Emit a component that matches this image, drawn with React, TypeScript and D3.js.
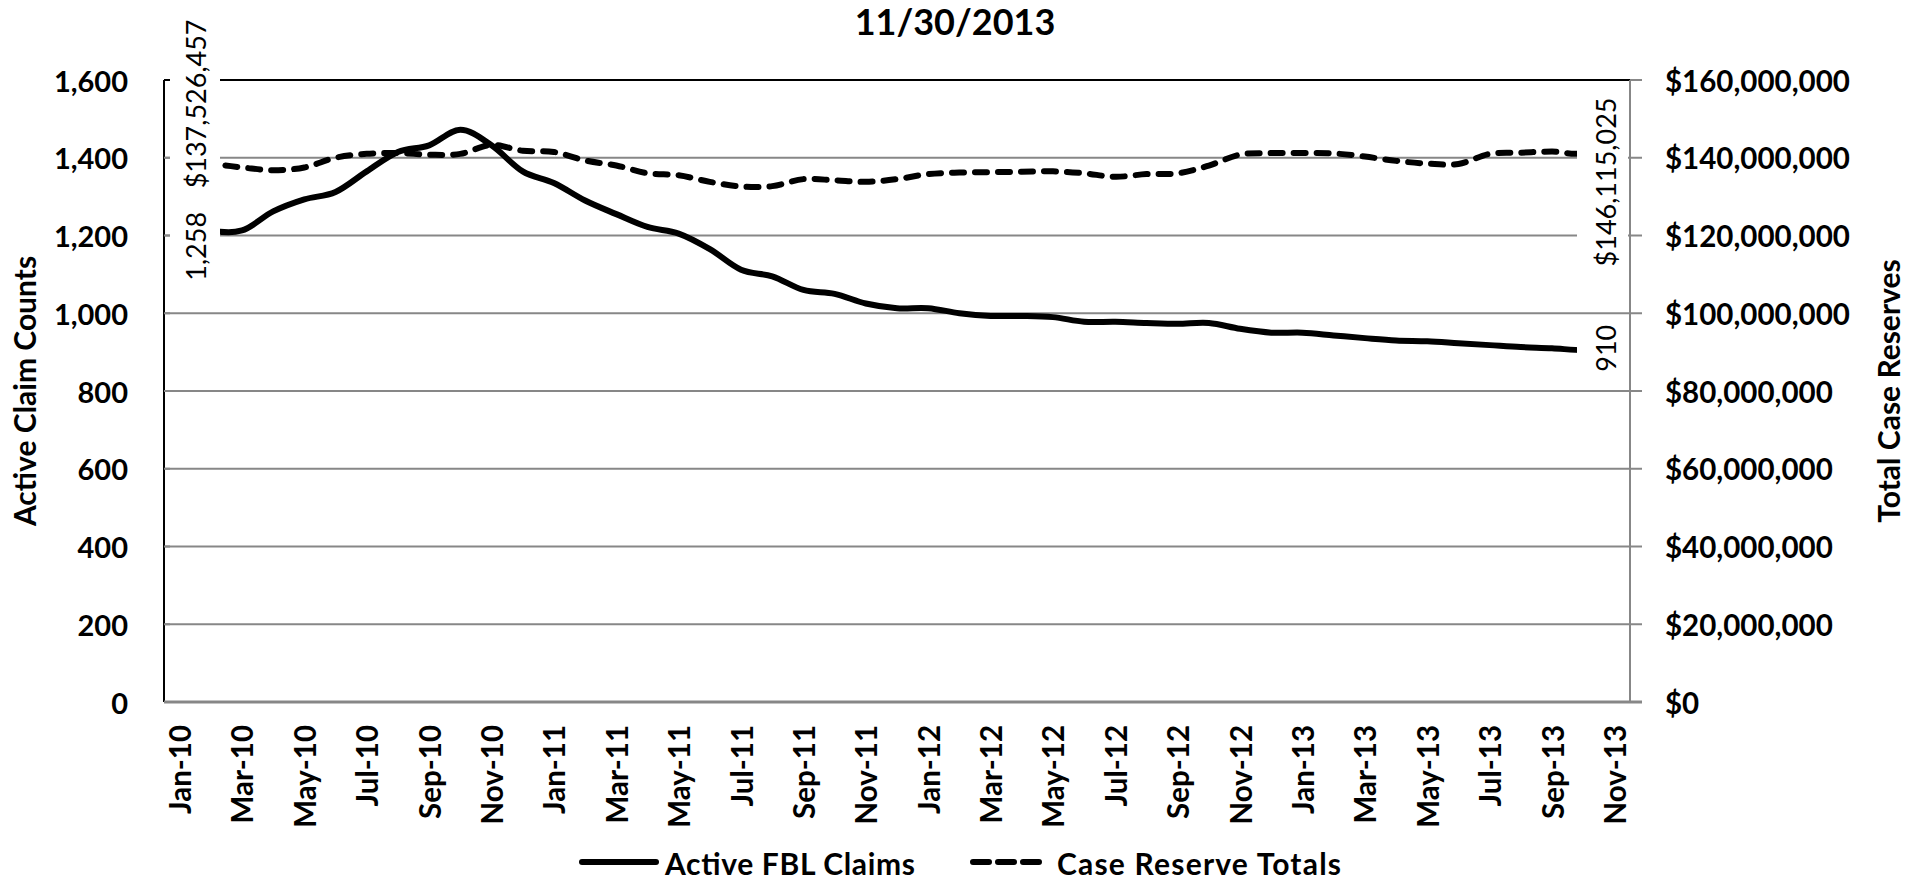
import React from 'react';
import * as d3 from 'd3';

const months = [
  'Jan-10', 'Feb-10', 'Mar-10', 'Apr-10', 'May-10', 'Jun-10', 'Jul-10', 'Aug-10', 'Sep-10', 'Oct-10', 'Nov-10', 'Dec-10',
  'Jan-11', 'Feb-11', 'Mar-11', 'Apr-11', 'May-11', 'Jun-11', 'Jul-11', 'Aug-11', 'Sep-11', 'Oct-11', 'Nov-11', 'Dec-11',
  'Jan-12', 'Feb-12', 'Mar-12', 'Apr-12', 'May-12', 'Jun-12', 'Jul-12', 'Aug-12', 'Sep-12', 'Oct-12', 'Nov-12', 'Dec-12',
  'Jan-13', 'Feb-13', 'Mar-13', 'Apr-13', 'May-13', 'Jun-13', 'Jul-13', 'Aug-13', 'Sep-13', 'Oct-13', 'Nov-13',
];

// active FBL claim counts (left axis)
const activeClaims = [
  1258, 1215, 1213, 1262, 1293, 1312, 1365, 1415, 1432, 1472, 1432, 1365,
  1335, 1290, 1255, 1222, 1205, 1165, 1112, 1095, 1060, 1050, 1025, 1013,
  1013, 1000, 993, 993, 990, 978, 978, 975, 973, 975, 960, 950,
  950, 943, 936, 930, 928, 923, 918, 913, 910, 905, 910,
];

// case reserve totals in $ (right axis)
const caseReserves = [
  137526457, 138300000, 137500000, 136800000, 137500000, 140000000, 141000000, 141200000, 140800000, 141000000, 143300000, 141800000,
  141500000, 139300000, 138000000, 136000000, 135500000, 133800000, 132600000, 132700000, 134500000, 134200000, 133800000, 134500000,
  135800000, 136200000, 136300000, 136400000, 136500000, 136000000, 135100000, 135800000, 136000000, 138000000, 140800000, 141200000,
  141200000, 141100000, 140300000, 139200000, 138500000, 138400000, 141000000, 141300000, 141600000, 141300000, 146115025,
];

const leftTicks = [0, 200, 400, 600, 800, 1000, 1200, 1400, 1600];
const rightTicks = [0, 20000000, 40000000, 60000000, 80000000, 100000000, 120000000, 140000000, 160000000];

const FONT = "Lato, 'Open Sans', sans-serif";

const App: React.FC = () => {
  const left = 164, right = 1630, top = 80, bottom = 702;

  const x = d3.scalePoint<string>().domain(months).range([left, right]).padding(0.5);
  const yL = d3.scaleLinear().domain([0, 1600]).range([bottom, top]);
  const yR = d3.scaleLinear().domain([0, 160000000]).range([bottom, top]);

  const claimLine = d3.line<number>()
    .x((_, i) => x(months[i]) as number)
    .y(d => yL(d))
    .curve(d3.curveCardinal.tension(0));
  const reserveLine = d3.line<number>()
    .x((_, i) => x(months[i]) as number)
    .y(d => yR(d))
    .curve(d3.curveCardinal.tension(0));

  const fmtCount = d3.format(',');
  const fmtMoney = (v: number) => '$' + d3.format(',')(Math.round(v));

  const x0 = x(months[0]) as number;
  const xN = x(months[months.length - 1]) as number;
  const lastClaim = activeClaims[activeClaims.length - 1];
  const lastRes = caseReserves[caseReserves.length - 1];

  return (
    <svg width={1906} height={885} style={{ position: 'absolute', left: 0, top: 0, background: '#fff' }} fontFamily={FONT}>
      <text x={955} y={21} textAnchor="middle" dominantBaseline="central" fontSize={36} fontWeight="bold">11/30/2013</text>

      {/* gridlines */}
      {leftTicks.filter(t => t > 0 && t < 1600).map(t => (
        <line key={'g' + t} x1={left} x2={right + 12} y1={yL(t)} y2={yL(t)} stroke="#878787" strokeWidth={2} />
      ))}
      <line x1={left} x2={right} y1={top} y2={top} stroke="#000" strokeWidth={2} />
      <line x1={right} x2={right + 12} y1={top} y2={top} stroke="#878787" strokeWidth={2} />

      {/* series */}
      <path d={reserveLine(caseReserves) || ''} fill="none" stroke="#000" strokeWidth={6}
        strokeDasharray="12 11" strokeLinecap="round" />
      <path d={claimLine(activeClaims) || ''} fill="none" stroke="#000" strokeWidth={6} strokeLinejoin="round" />

      {/* end-point data labels */}
      <rect x={left + 6} y={2} width={50} height={191} fill="#fff" />
      <rect x={left + 6} y={206} width={50} height={84} fill="#fff" />
      <rect x={1577} y={88} width={51} height={186} fill="#fff" />
      <rect x={1577} y={320} width={51} height={56} fill="#fff" />
      <text transform={`translate(${x0 + 16},${yR(caseReserves[0]) + 21}) rotate(-90)`} dominantBaseline="central" fontSize={27}>
        {fmtMoney(caseReserves[0])}
      </text>
      <text transform={`translate(${x0 + 16},${yL(activeClaims[0]) - 1}) rotate(-90)`} textAnchor="end" dominantBaseline="central" fontSize={27}>
        {fmtCount(activeClaims[0])}
      </text>
      <text transform={`translate(${xN - 9},${yR(lastRes) + 48}) rotate(-90)`} textAnchor="middle" dominantBaseline="central" fontSize={27}>
        {fmtMoney(lastRes)}
      </text>
      <text transform={`translate(${xN - 9},${yL(lastClaim)}) rotate(-90)`} textAnchor="middle" dominantBaseline="central" fontSize={27}>
        {fmtCount(lastClaim)}
      </text>

      {/* axes */}
      <line x1={left} x2={left} y1={top} y2={bottom} stroke="#000" strokeWidth={2} />
      {leftTicks.map(t => (
        <line key={'lt' + t} x1={left} x2={left + 6} y1={yL(t)} y2={yL(t)} stroke={t === 1600 ? '#000' : '#878787'} strokeWidth={2} />
      ))}
      <line x1={right} x2={right} y1={top} y2={bottom} stroke="#878787" strokeWidth={2} />
      <line x1={left} x2={right + 12} y1={bottom} y2={bottom} stroke="#878787" strokeWidth={3} />

      {leftTicks.map(t => (
        <text key={'ll' + t} x={128} y={yL(t)} textAnchor="end" dominantBaseline="central" fontSize={29} fontWeight="bold">
          {fmtCount(t)}
        </text>
      ))}
      {rightTicks.map(t => (
        <text key={'rl' + t} x={1665} y={yR(t)} dominantBaseline="central" fontSize={29.5} fontWeight="bold">
          {fmtMoney(t)}
        </text>
      ))}
      {months.map((m, i) => i % 2 === 0 ? (
        <text key={m} transform={`translate(${x(m)},725) rotate(-90)`} textAnchor="end" dominantBaseline="central" fontSize={29.5} fontWeight="bold">
          {m}
        </text>
      ) : null)}

      <text transform={`translate(24,391) rotate(-90)`} textAnchor="middle" dominantBaseline="central" fontSize={30} fontWeight="bold">Active Claim Counts</text>
      <text transform={`translate(1888,391) rotate(-90)`} textAnchor="middle" dominantBaseline="central" fontSize={30} fontWeight="bold">Total Case Reserves</text>

      {/* legend */}
      <line x1={582} x2={656} y1={862} y2={862} stroke="#000" strokeWidth={6} strokeLinecap="round" />
      <text x={665} y={875} fontSize={30} fontWeight="bold" textLength={250} lengthAdjust="spacing">Active FBL Claims</text>
      <line x1={973} x2={1039} y1={862} y2={862} stroke="#000" strokeWidth={6} strokeLinecap="round" strokeDasharray="16 9" />
      <text x={1057} y={875} fontSize={30} fontWeight="bold" textLength={284} lengthAdjust="spacing">Case Reserve Totals</text>
    </svg>
  );
};

export default App;
